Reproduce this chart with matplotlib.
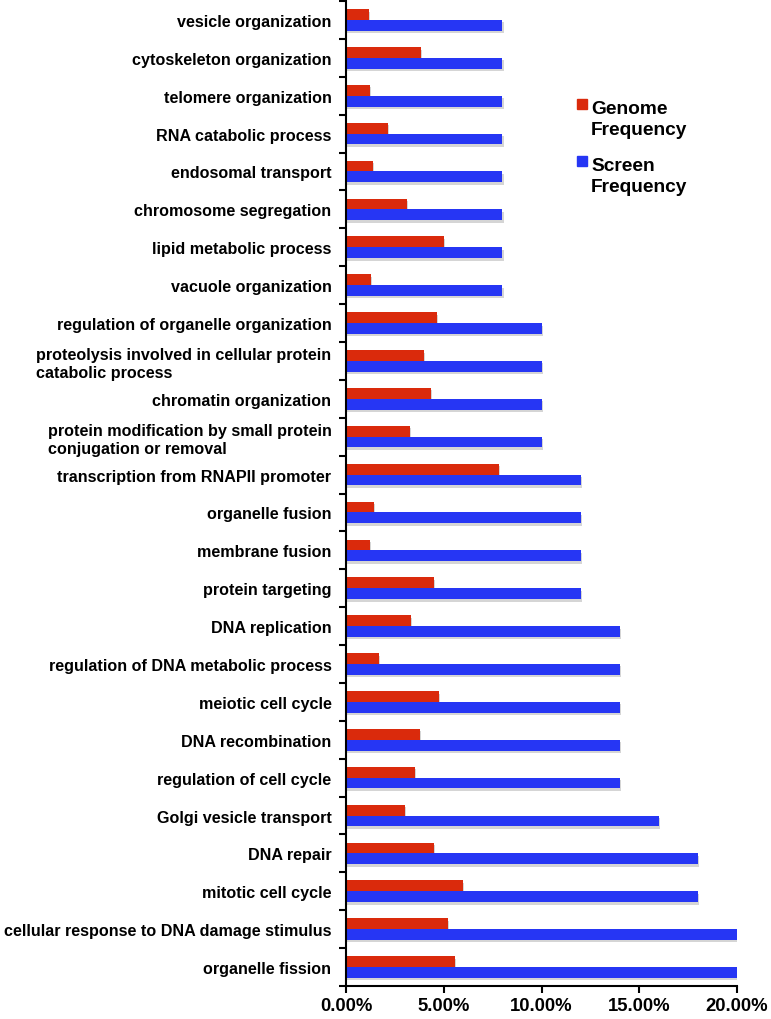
import numpy as np
import matplotlib
matplotlib.use("Agg")
import matplotlib.pyplot as plt
import matplotlib.patheffects as pe
from matplotlib.patches import Rectangle
from matplotlib.ticker import FuncFormatter, FixedLocator

# -------- data (top to bottom as in the picture) --------
categories = [
    "vesicle organization",
    "cytoskeleton organization",
    "telomere organization",
    "RNA catabolic process",
    "endosomal transport",
    "chromosome segregation",
    "lipid metabolic process",
    "vacuole organization",
    "regulation of organelle organization",
    "proteolysis involved in cellular protein\ncatabolic process",
    "chromatin organization",
    "protein modification by small protein\nconjugation or removal",
    "transcription from RNAPII promoter",
    "organelle fusion",
    "membrane fusion",
    "protein targeting",
    "DNA replication",
    "regulation of DNA metabolic process",
    "meiotic cell cycle",
    "DNA recombination",
    "regulation of cell cycle",
    "Golgi vesicle transport",
    "DNA repair",
    "mitotic cell cycle",
    "cellular response to DNA damage stimulus",
    "organelle fission",
]
genome_freq = [1.16, 3.84, 1.24, 2.15, 1.38, 3.14, 5.03, 1.28, 4.67, 3.97,
               4.36, 3.26, 7.83, 1.45, 1.21, 4.52, 3.34, 1.69, 4.76, 3.79,
               3.51, 3.00, 4.48, 6.00, 5.20, 5.58]
screen_freq = [8, 8, 8, 8, 8, 8, 8, 8, 10, 10, 10, 10, 12, 12, 12, 12,
               14, 14, 14, 14, 14, 16, 18, 18, 20, 20]
series_names = ["Genome\nFrequency", "Screen\nFrequency"]

red = "#DA2A0C"
blue = "#2636F4"

plt.rcParams['font.family'] = ['Liberation Sans', 'DejaVu Sans']
plt.rcParams['font.weight'] = 'bold'

W, H = 771, 1020
fig = plt.figure(figsize=(W / 100, H / 100), dpi=100)
ax = fig.add_axes([346 / W, 1 - 987 / H, (737 - 346) / W, (987 - 2) / H])

n = len(categories)
y = np.arange(n)[::-1]  # first category on top
h = 0.285
shadow = [pe.SimplePatchShadow(offset=(0.8, -1.8), shadow_rgbFace='#888888', alpha=0.35), pe.Normal()]

ax.barh(y + h / 2, genome_freq, height=h, color=red, path_effects=shadow)
ax.barh(y - h / 2, screen_freq, height=h, color=blue, path_effects=shadow)

ax.set_xlim(0, 20)
ax.set_ylim(-0.5, n - 0.5)

ax.set_xticks([0, 5, 10, 15, 20])
ax.xaxis.set_major_formatter(FuncFormatter(lambda v, p: f"{v:.2f}%"))
ax.tick_params(axis='x', direction='out', length=5, width=1.5, labelsize=13.3, pad=3)

ax.set_yticks(y)
ax.set_yticklabels(categories, fontsize=11.6, multialignment='left', linespacing=1.2)
ax.tick_params(axis='y', which='major', length=0, pad=10.5)
ax.yaxis.set_minor_locator(FixedLocator(np.arange(n + 1) - 0.5))
ax.tick_params(axis='y', which='minor', direction='out', length=5, width=1.5)

for s in ['top', 'right']:
    ax.spines[s].set_visible(False)
for s in ['left', 'bottom']:
    ax.spines[s].set_linewidth(1.5)

# -------- legend (square beside the first line of each label) --------
for name, col, top in zip(series_names, [red, blue], [100, 157]):
    fig.patches.append(Rectangle((577 / W, 1 - (top + 9.5) / H), 9.5 / W, 9.5 / H,
                                 transform=fig.transFigure, color=col))
    fig.text(591 / W, 1 - (top + 1) / H, name, fontsize=13.8, va='top', ha='left',
             linespacing=1.28)

fig.savefig("out.png", dpi=100)
